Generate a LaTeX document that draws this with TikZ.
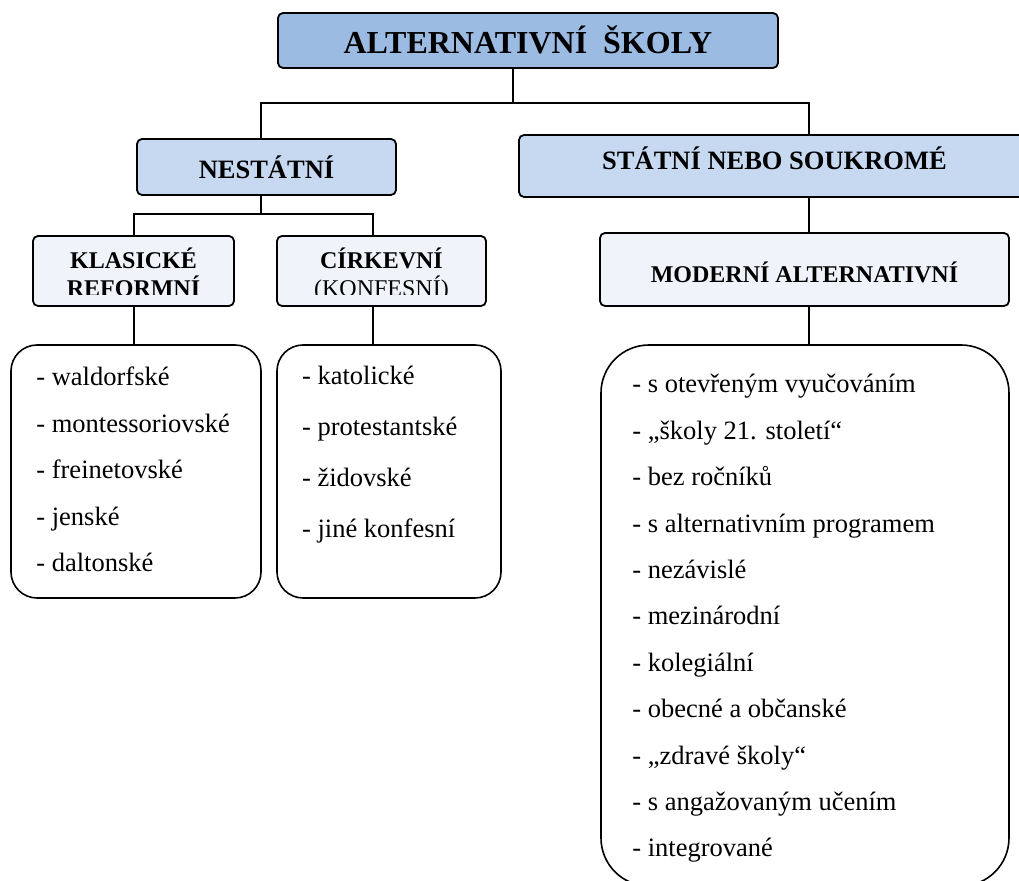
\documentclass[tikz,border=0pt]{standalone}
\usepackage{fontspec}
\setmainfont{Liberation Serif}
\definecolor{topblue}{RGB}{155,187,227}
\definecolor{midblue}{RGB}{198,217,241}
\definecolor{paleblue}{RGB}{240,244,250}
\begin{document}
\begin{tikzpicture}[x=0.5pt, y=-0.5pt,
    hdr/.style={draw, line width=0.9pt, rounded corners=2.5pt, inner sep=0pt},
    listbox/.style={draw, line width=0.8pt, inner sep=0pt},
    item/.style={anchor=base west, inner sep=0pt, font=\fontsize{13.25}{16}\selectfont},
    subtxt/.style={anchor=base, inner sep=0pt, font=\fontsize{12}{14}\selectfont},
    link/.style={line width=0.75pt}]
    \clip (0,0) rectangle (1019,881);

    % header boxes
    \node[hdr, fill=topblue, minimum width=250pt, minimum height=27.5pt,
        text height=12.6pt, text depth=0pt,
        font=\bfseries\fontsize{16}{19}\selectfont] (title) at (528,40.5)
        {ALTERNATIVNÍ \ ŠKOLY};
    \node[hdr, fill=midblue, minimum width=129.5pt, minimum height=28pt,
        font=\bfseries\fontsize{13.25}{16}\selectfont] (nestatni) at (266.5,167)
        {NESTÁTNÍ};
    \node[hdr, fill=midblue, minimum width=255.5pt, minimum height=31pt,
        text height=8.8pt, text depth=5pt,
        font=\bfseries\fontsize{13.25}{16}\selectfont] (statni) at (774.5,166)
        {STÁTNÍ NEBO SOUKROMÉ};
    \node[hdr, fill=paleblue, minimum width=100.5pt, minimum height=35pt] (klasicke)
        at (133.5,271) {};
    \node[hdr, fill=paleblue, minimum width=104.5pt, minimum height=35pt] (cirkevni)
        at (381.5,271) {};
    \node[hdr, fill=paleblue, minimum width=204.5pt, minimum height=36.5pt,
        text height=13.4pt, text depth=0pt,
        font=\bfseries\fontsize{12}{14}\selectfont] (moderni) at (804.5,269.5)
        {MODERNÍ ALTERNATIVNÍ};

    % two-line labels, cut off at the bottom
    \begin{scope}
        \clip (33,236) rectangle (486,295);
        \node[subtxt, font=\bfseries\fontsize{12}{14}\selectfont] (klas1) at (133.5,269) {KLASICKÉ};
        \node[subtxt, font=\bfseries\fontsize{12}{14}\selectfont] (klas2) at (133.5,297) {REFORMNÍ};
        \node[subtxt, font=\bfseries\fontsize{12}{14}\selectfont] (cirk1) at (381.5,269) {CÍRKEVNÍ};
        \node[subtxt] (cirk2) at (381.5,297) {(KONFESNÍ)};
    \end{scope}

    % list boxes
    \node[listbox, rounded corners=13pt, minimum width=125pt, minimum height=126.5pt]
        (reflist) at (136,471.5) {};
    \node[listbox, rounded corners=13pt, minimum width=112pt, minimum height=126.5pt]
        (konflist) at (389,471.5) {};
    \node[listbox, rounded corners=24pt, minimum width=204pt, minimum height=270.5pt]
        (modlist) at (805,615.5) {};

    % connectors
    \coordinate (fork1) at (513,103); \coordinate (fork1l) at (261,103);
    \coordinate (fork1r) at (809,103);
    \coordinate (fork2) at (261,214); \coordinate (fork2l) at (134,214);
    \coordinate (fork2r) at (373,214);
    \draw[link] (title.south -| fork1) -- (fork1);
    \draw[link] (nestatni.north -| fork1l) -- (fork1l) -- (fork1r) -- (statni.north -| fork1r);
    \draw[link] (nestatni.south -| fork2) -- (fork2);
    \draw[link] (klasicke.north -| fork2l) -- (fork2l) -- (fork2r) -- (cirkevni.north -| fork2r);
    \draw[link] (klasicke.south -| fork2l) -- (reflist.north -| fork2l);
    \draw[link] (cirkevni.south -| fork2r) -- (konflist.north -| fork2r);
    \draw[link] (statni.south -| fork1r) -- (moderni.north -| fork1r);
    \draw[link] (moderni.south -| fork1r) -- (modlist.north -| fork1r);

    % lists
    \foreach \txt [count=\i] in {waldorfské, montessoriovské, freinetovské, jenské, daltonské}
        \node[item] (ref\i) at (36, {385.7+46.5*(\i-1)}) {- \txt};
    \foreach \txt [count=\i] in {katolické, protestantské, židovské, jiné konfesní}
        \node[item] (konf\i) at (301.7, {385+51*(\i-1)}) {- \txt};
    \foreach \txt [count=\i] in {s otevřeným vyučováním, „školy 21. století“, bez ročníků,
        s alternativním programem, nezávislé, mezinárodní, kolegiální, obecné a občanské,
        „zdravé školy“, s angažovaným učením, integrované}
        \node[item] (mod\i) at (632, {393+46.4*(\i-1)}) {- \txt};

\end{tikzpicture}
\end{document}
